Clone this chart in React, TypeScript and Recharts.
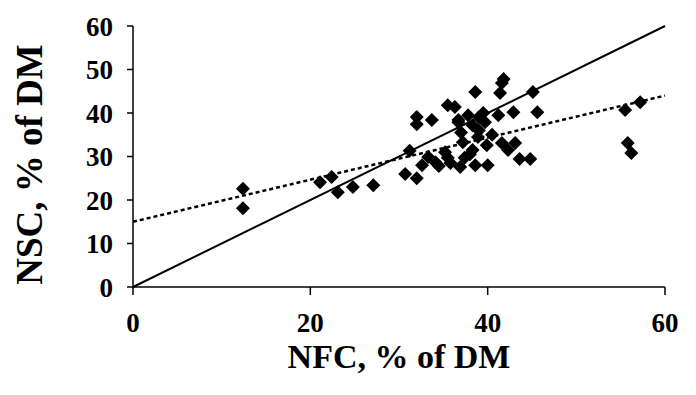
import React from 'react';
import { ScatterChart, Scatter, XAxis, YAxis, ReferenceLine, Label } from 'recharts';

// NFC (x) and NSC (y), % of DM
const nfc = [
  12.4, 12.4, 21.1, 22.4, 23.1, 24.8, 27.1, 30.7, 31.2, 32.0,
  32.0, 32.0, 33.7, 35.5, 36.7, 35.2, 33.3, 32.6, 34.1, 35.5,
  38.6, 41.6, 41.4, 45.1, 36.3, 37.8, 39.5, 41.2, 42.9, 45.6,
  36.7, 38.3, 39.7, 37.2, 38.9, 38.3, 39.9, 41.6, 43.1, 42.3,
  37.4, 38.6, 40.0, 43.6, 44.8, 36.9, 55.5, 57.2, 55.8, 56.2,
  34.5, 35.8, 39.0, 40.5, 37.0, 38.0, 41.8, 39.0,
];
const nsc = [
  22.6, 18.1, 24.1, 25.3, 21.8, 23.0, 23.4, 26.0, 31.3, 25.0,
  39.1, 37.4, 38.4, 41.8, 38.4, 31.0, 29.9, 28.0, 28.7, 29.7,
  44.8, 46.9, 44.6, 44.8, 41.4, 39.5, 40.0, 39.5, 40.2, 40.2,
  37.9, 37.2, 37.9, 33.3, 34.5, 31.5, 32.6, 33.1, 33.1, 31.5,
  29.7, 28.0, 28.0, 29.4, 29.4, 27.6, 40.7, 42.5, 33.1, 30.8,
  27.8, 28.5, 36.0, 35.0, 35.5, 30.5, 47.8, 39.0,
];

const xTicks = [0, 20, 40, 60];
const yTicks = [0, 10, 20, 30, 40, 50, 60];

// 1:1 line and regression line (intercept/slope)
const unityLine = [{ x: 0, y: 0 }, { x: 60, y: 60 }];
const fitLine = [{ x: 0, y: 15 }, { x: 60, y: 44 }];

const points = nfc.map((x, i) => ({ x, y: nsc[i] }));

const font = '"Liberation Serif", "Times New Roman", serif';

const Diamond = (props: any) => {
  const { cx, cy } = props;
  const r = 7;
  return <polygon points={`${cx},${cy - r} ${cx + r},${cy} ${cx},${cy + r} ${cx - r},${cy}`} fill="#000" />;
};

const YTitle = (props: any) => {
  const { viewBox } = props;
  const x = viewBox.x - 44;
  const y = viewBox.y + viewBox.height / 2 + 8;
  return (
    <text
      x={x}
      y={y}
      transform={`rotate(-90 ${x} ${y})`}
      textAnchor="middle"
      dominantBaseline="central"
      style={{ fontFamily: font, fontSize: 37, fontWeight: 700, fill: '#000' }}
    >
      NSC, % of DM
    </text>
  );
};

const tickStyle = { fontFamily: font, fontSize: 27, fontWeight: 700, fill: '#000' };

export default function App() {
  return (
    <div style={{ position: 'absolute', left: 0, top: 0, background: '#fff' }}>
      <ScatterChart width={696} height={395} margin={{ top: 26, right: 31, bottom: 58, left: 73 }}>
        <XAxis
          type="number"
          dataKey="x"
          domain={[0, 60]}
          ticks={xTicks}
          height={50}
          tick={tickStyle}
          tickLine={{ stroke: '#000', strokeWidth: 1.5 }}
          tickSize={8}
          tickMargin={18}
          axisLine={{ stroke: '#000', strokeWidth: 1.5 }}
        >
          <Label value="NFC, % of DM" position="bottom" offset={7} style={{ fontFamily: font, fontSize: 34, fontWeight: 700, fill: '#000' }} />
        </XAxis>
        <YAxis
          type="number"
          dataKey="y"
          domain={[0, 60]}
          ticks={yTicks}
          width={60}
          tick={tickStyle}
          tickLine={{ stroke: '#000', strokeWidth: 1.5 }}
          tickSize={6}
          tickMargin={14}
          axisLine={{ stroke: '#000', strokeWidth: 1.5 }}
        >
          <Label content={YTitle} />
        </YAxis>
        <ReferenceLine segment={unityLine} stroke="#000" strokeWidth={2} ifOverflow="visible" />
        <ReferenceLine segment={fitLine} stroke="#000" strokeWidth={2.5} strokeDasharray="4 3" ifOverflow="visible" />
        <Scatter data={points} shape={Diamond} isAnimationActive={false} />
      </ScatterChart>
    </div>
  );
}
